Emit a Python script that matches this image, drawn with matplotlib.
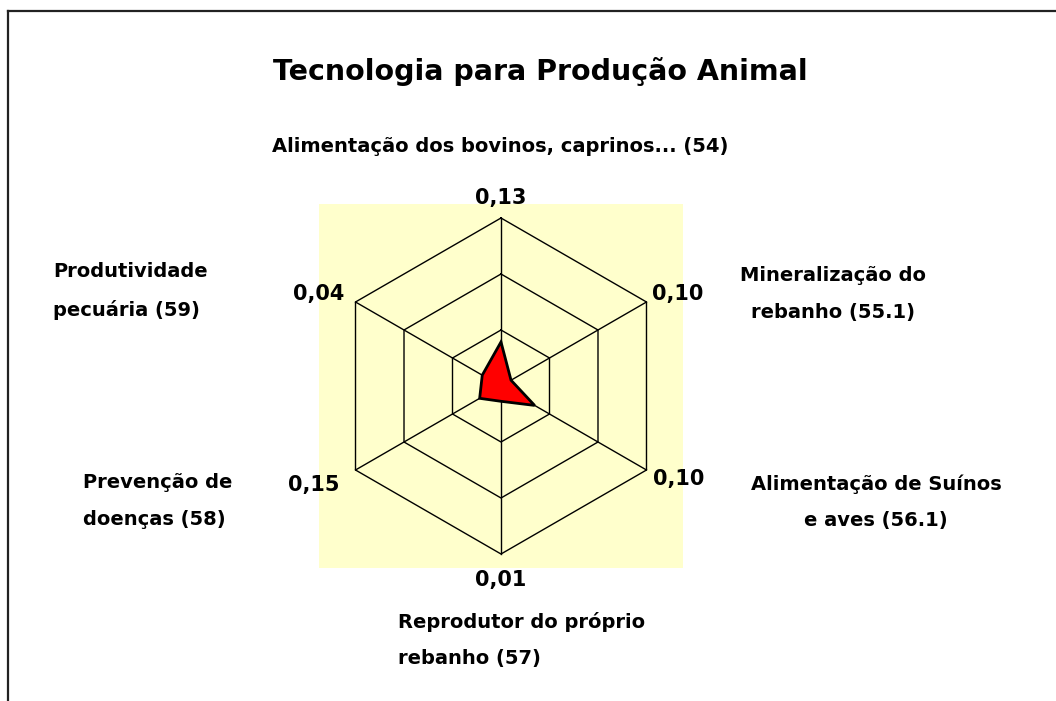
import numpy as np
import matplotlib
matplotlib.use("Agg")
import matplotlib.pyplot as plt
from matplotlib.lines import Line2D

# categories (clockwise from top) and series values
categories = [
    "Alimentação dos bovinos, caprinos... (54)",
    "Mineralização do\nrebanho (55.1)",
    "Alimentação de Suínos\ne aves (56.1)",
    "Reprodutor do próprio\nrebanho (57)",
    "Prevenção de\ndoenças (58)",
    "Produtividade\npecuária (59)",
]
values = [0.118, 0.031, 0.104, 0.041, 0.066, 0.058]
vertex_labels = ["0,13", "0,10", "0,10", "0,01", "0,15", "0,04"]
rings = [0.15, 0.30, 0.45]
rmax = 0.45

W, H = 1056, 701
fig = plt.figure(figsize=(W / 100, H / 100), dpi=100)
fig.patch.set_facecolor("white")

# plot area (yellow square)
x0, x1, y0, y1 = 319, 683, 204, 568
ax = fig.add_axes([x0 / W, 1 - y1 / H, (x1 - x0) / W, (y1 - y0) / H])
ax.set_facecolor("#FFFFCC")
lim = rmax * 182 / 168
ax.set_xlim(-lim, lim)
ax.set_ylim(-lim, lim)
ax.set_xticks([])
ax.set_yticks([])
for s in ax.spines.values():
    s.set_visible(False)

n = len(categories)
ang = np.pi / 2 - np.arange(n) * 2 * np.pi / n
ang_c = np.append(ang, ang[0])

# hexagonal grid and spokes
for r in rings:
    ax.plot(r * np.cos(ang_c), r * np.sin(ang_c), color="black", lw=1.0)
for a in ang:
    ax.plot([0, rmax * np.cos(a)], [0, rmax * np.sin(a)], color="black", lw=1.0)

# data polygon
v = np.append(values, values[0])
ax.fill(v * np.cos(ang_c), v * np.sin(ang_c), facecolor="#FF0000",
        edgecolor="black", lw=2.0, zorder=3)

# vertex labels
offsets = [(0, 20, "center"), (6, 8, "left"), (7, -9, "left"),
           (0, -26, "center"), (-16, -15, "right"), (-11, 8, "right")]
for a, lab, (dx, dy, ha) in zip(ang, vertex_labels, offsets):
    ax.annotate(lab, xy=(rmax * np.cos(a), rmax * np.sin(a)),
                xytext=(dx, dy), textcoords="offset pixels",
                ha=ha, va="center", fontsize=15, fontweight="bold",
                annotation_clip=False)

# category labels (pixel positions in the figure)
cat_pos = [(500, 147, "center"), (833, 294, "center"), (876, 502, "center"),
           (398, 640, "left"), (83, 501, "left"), (53, 291, "left")]
for lab, (px, py, ha) in zip(categories, cat_pos):
    fig.text(px / W, 1 - py / H, lab, ha=ha, va="center", fontsize=14,
             fontweight="bold", multialignment=ha, linespacing=2.15)

fig.text(540 / W, 1 - 72 / H, "Tecnologia para Produção Animal",
         ha="center", va="center", fontsize=20.5, fontweight="bold")

# outer frame (top and left edges visible)
fig.add_artist(Line2D([8 / W, 8 / W], [0, 1 - 11 / H], color="#222222",
                      lw=1.6, transform=fig.transFigure))
fig.add_artist(Line2D([8 / W, 1], [1 - 11 / H, 1 - 11 / H], color="#222222",
                      lw=1.6, transform=fig.transFigure))

fig.savefig("out.png", dpi=100)
